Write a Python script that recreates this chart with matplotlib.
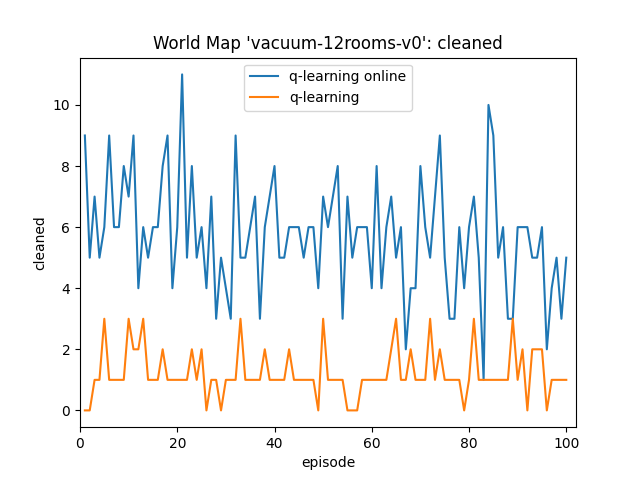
import matplotlib
matplotlib.use("Agg")
import matplotlib.pyplot as plt

episodes = list(range(1, 101))
online = [9,5,7,5,6,9,6,6,8,7,9,4,6,5,6,6,8,9,4,6,11,5,8,5,6,4,7,3,5,4,3,9,5,5,6,7,3,6,7,8,5,5,6,6,6,5,6,6,4,
          7,6,7,8,3,7,5,6,6,6,4,8,4,6,7,5,6,2,4,4,8,6,5,7,9,5,3,3,6,4,6,7,5,1,10,9,5,6,3,3,6,6,6,5,5,6,2,4,5,3,5]
offline = [0,0,1,1,3,1,1,1,1,3,2,2,3,1,1,1,2,1,1,1,1,1,2,1,2,0,1,1,0,1,1,1,3,1,1,1,1,2,1,1,1,1,2,1,1,1,1,1,0,
           3,1,1,1,1,0,0,0,1,1,1,1,1,1,2,3,1,1,2,1,1,1,3,1,2,1,1,1,1,0,1,3,1,1,1,1,1,1,1,3,1,2,0,2,2,2,0,1,1,1,1]

fig, ax = plt.subplots(figsize=(6.4, 4.8), dpi=100)
ax.plot(episodes, online, label="q-learning online")
ax.plot(episodes, offline, label="q-learning")
ax.set_xlim(0, 102)
ax.set_title("World Map 'vacuum-12rooms-v0': cleaned")
ax.set_xlabel("episode")
ax.set_ylabel("cleaned")
ax.legend(loc="upper center")
fig.savefig("out.png")
